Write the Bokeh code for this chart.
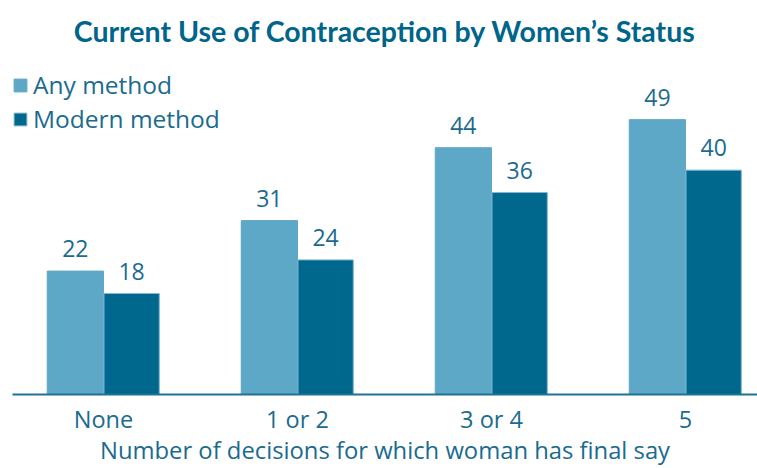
import numpy as np
from bokeh.plotting import figure
from bokeh.models import ColumnDataSource, Range1d, FixedTicker, Legend, LegendItem, LabelSet
from bokeh.core.properties import value
from bokeh.embed import file_html
from bokeh.resources import INLINE

categories = ["None", "1 or 2", "3 or 4", "5"]
any_method = [22, 31, 44, 49]
modern_method = [18, 24, 36, 40]
series_names = ["Any method", "Modern method"]
x_title = "Number of decisions for which woman has final say"

LIGHT = "#5EA8C7"
DARK = "#00678D"
TEXT = "#1A6B8E"
TITLE = "#00658A"
FONT = "Open Sans"
OFF = 0.145

idx = np.arange(len(categories))
src = ColumnDataSource(dict(
    x=idx,
    x_any=idx - OFF,
    x_mod=idx + OFF,
    any=any_method,
    modern=modern_method,
    any_lbl=[str(v) for v in any_method],
    modern_lbl=[str(v) for v in modern_method],
))

p = figure(width=757, height=468, output_backend="svg", toolbar_location=None,
           x_range=Range1d(-0.469, 3.371), y_range=Range1d(0, 59.9),
           min_border_left=12, min_border_right=0, min_border_top=52, min_border_bottom=70)

p.title.text = "Current Use of Contraception by Women\u2019s Status"
p.title.align = "center"
p.title.text_font = "Lato"
p.title.text_font_style = "bold"
p.title.text_font_size = "28.5px"
p.title.text_color = TITLE
p.title.standoff = 22

r1 = p.vbar(x="x_any", top="any", width=0.29, bottom=0,
            source=src, fill_color=LIGHT, line_color=LIGHT, line_width=1)
r2 = p.vbar(x="x_mod", top="modern", width=0.285, bottom=0,
            source=src, fill_color=DARK, line_color="#7FB8D2", line_width=1)

for xcol, col, lbl in (("x_any", "any", "any_lbl"), ("x_mod", "modern", "modern_lbl")):
    ls = LabelSet(x=xcol, y=col, text=lbl, source=src,
                  text_align="center", text_baseline="bottom", y_offset=14,
                  text_font=value(FONT), text_font_size="23px", text_color=TEXT)
    p.add_layout(ls)

p.yaxis.visible = False
p.xgrid.visible = False
p.ygrid.visible = False
p.outline_line_color = None

xa = p.xaxis[0]
xa.ticker = FixedTicker(ticks=list(idx))
xa.major_label_overrides = {int(i): c for i, c in zip(idx, categories)}
xa.major_tick_line_color = None
xa.minor_tick_line_color = None
xa.major_tick_out = 0
xa.major_tick_in = 0
xa.axis_line_color = "#1E7395"
xa.axis_line_width = 2
xa.major_label_text_font = FONT
xa.major_label_text_font_size = "23.5px"
xa.major_label_text_color = TEXT
xa.major_label_standoff = 8
xa.axis_label = x_title
xa.axis_label_text_font = FONT
xa.axis_label_text_font_size = "23.8px"
xa.axis_label_text_font_style = "normal"
xa.axis_label_text_color = TEXT
xa.axis_label_standoff = -4

legend = Legend(items=[LegendItem(label=series_names[0], renderers=[r1]),
                       LegendItem(label=series_names[1], renderers=[r2])],
                location=(0, 259), border_line_color=None, background_fill_alpha=0,
                label_text_font=FONT, label_text_font_size="24.5px", label_text_color=TEXT,
                glyph_width=16, glyph_height=16, label_standoff=5, spacing=1,
                padding=0, margin=0)
p.add_layout(legend)

open("out.html", "w").write(file_html(p, INLINE))
